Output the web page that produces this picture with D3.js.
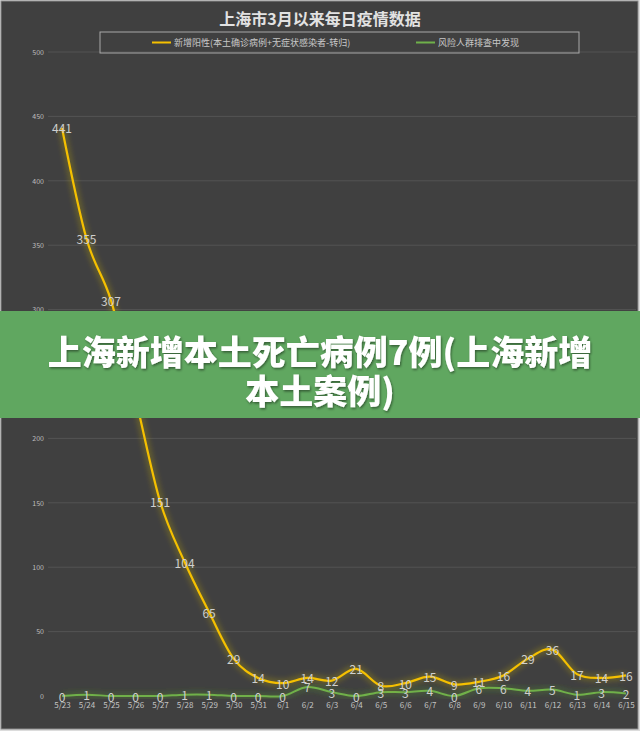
<!DOCTYPE html>
<html>
<head>
<meta charset="utf-8">
<script src="https://cdn.jsdelivr.net/npm/d3@7/dist/d3.min.js"></script>
<style>
html,body{margin:0;padding:0;background:#ffffff;}
svg{display:block;}
</style>
</head>
<body>
<svg id="chart" width="640" height="731"></svg>
<script>
const dates = ["5/23","5/24","5/25","5/26","5/27","5/28","5/29","5/30","5/31","6/1","6/2","6/3","6/4","6/5","6/6","6/7","6/8","6/9","6/10","6/11","6/12","6/13","6/14","6/15"];
const positives = [441,355,307,231,151,104,65,29,14,10,14,12,21,8,10,15,9,11,16,29,36,17,14,16];
const screening = [0,1,0,0,0,1,1,0,0,0,7,3,0,3,3,4,0,6,6,4,5,1,3,2];
const yTicks = [0,50,100,150,200,250,300,350,400,450,500];
const titleText = "上海市3月以来每日疫情数据";
const legendNames = ["新增阳性(本土确诊病例+无症状感染者-转归)","风险人群排查中发现"];
const bannerLines = ["上海新增本土死亡病例7例(上海新增","本土案例)"];

const W = 640, H = 731;
const svg = d3.select("#chart");
const font = "'Noto Sans CJK SC','Noto Sans',sans-serif";

const defs = svg.append("defs");
function glow(id, color, dev, op){
  const f = defs.append("filter").attr("id", id).attr("x","-20%").attr("y","-20%").attr("width","140%").attr("height","140%");
  f.append("feGaussianBlur").attr("in","SourceAlpha").attr("stdDeviation",dev).attr("result","b");
  f.append("feFlood").attr("flood-color",color).attr("flood-opacity",op);
  f.append("feComposite").attr("in2","b").attr("operator","in").attr("result","g");
  const m = f.append("feMerge");
  m.append("feMergeNode").attr("in","g");
  m.append("feMergeNode").attr("in","g");
  m.append("feMergeNode").attr("in","SourceGraphic");
}
glow("glowY", "#c8b000", 3.5, 0.5);
glow("glowG", "#5fa040", 3.5, 0.5);
const sh = defs.append("filter").attr("id","tshadow").attr("x","-10%").attr("y","-30%").attr("width","120%").attr("height","160%");
sh.append("feDropShadow").attr("dx",1).attr("dy",1.5).attr("stdDeviation",1).attr("flood-color","#000").attr("flood-opacity",0.45);

// background
svg.append("rect").attr("x",0).attr("y",0).attr("width",W).attr("height",H).attr("fill","#dcdcdc");
svg.append("rect").attr("x",1).attr("y",1).attr("width",637).attr("height",728).attr("fill","#404040").attr("stroke","#8a8a8a").attr("stroke-width",1);

const x = d3.scalePoint().domain(dates).range([62, 626]);
const y = d3.scaleLinear().domain([0,500]).range([696, 52]);

// gridlines
svg.append("g").selectAll("line").data(yTicks.filter(d=>d>0)).join("line")
  .attr("x1",48).attr("x2",636)
  .attr("y1",d=>y(d)).attr("y2",d=>y(d))
  .attr("stroke","#535353").attr("stroke-width",1);

// y axis labels
const yAxis = d3.axisLeft(y).tickValues(yTicks).tickSize(0).tickPadding(0);
const ya = svg.append("g").attr("transform","translate(44,0)").call(yAxis);
ya.select(".domain").remove();
ya.selectAll("text").attr("fill","#bdbdbd").style("font-size","7px").style("font-family",font);

// x axis labels
const xAxis = d3.axisBottom(x).tickSize(0).tickPadding(0);
const xa = svg.append("g").attr("transform","translate(0,702)").call(xAxis);
xa.select(".domain").remove();
xa.selectAll("text").attr("fill","#c4c4c4").style("font-size","8px").style("font-family",font);

// lines
const lineY = d3.line().x((d,i)=>x(dates[i])).y(d=>y(d)).curve(d3.curveCatmullRom.alpha(0));
const lineG = d3.line().x((d,i)=>x(dates[i])).y(d=>y(d)).curve(d3.curveCatmullRom.alpha(0));
svg.append("path").datum(screening).attr("d",lineG).attr("fill","none")
  .attr("stroke","#6fb04a").attr("stroke-width",2).attr("filter","url(#glowG)");
svg.append("path").datum(positives).attr("d",lineY).attr("fill","none")
  .attr("stroke","#f5c000").attr("stroke-width",2.2).attr("filter","url(#glowY)");

// data labels
function labels(arr){
  svg.append("g").selectAll("text").data(arr).join("text")
    .attr("x",(d,i)=>x(dates[i])).attr("y",d=>y(d))
    .attr("text-anchor","middle").attr("dominant-baseline","central")
    .attr("fill","#cfcfcf").style("font-size","12px").style("font-family",font)
    .text(d=>d);
}
labels(screening);
labels(positives);

// title
svg.append("text").attr("x",320).attr("y",18).attr("text-anchor","middle").attr("dominant-baseline","central")
  .attr("fill","#e2e2e2").style("font-size","16px").style("font-weight","bold").style("font-family",font)
  .text(titleText);

// legend
svg.append("rect").attr("x",100).attr("y",32).attr("width",479).attr("height",21)
  .attr("fill","none").attr("stroke","#a8a8a8").attr("stroke-width",1);
const legColors = ["#f5c000","#6fb04a"];
const legX = [152, 416];
legendNames.forEach((n,i)=>{
  svg.append("line").attr("x1",legX[i]).attr("x2",legX[i]+19).attr("y1",42.5).attr("y2",42.5)
    .attr("stroke",legColors[i]).attr("stroke-width",2);
  svg.append("text").attr("x",legX[i]+22).attr("y",42.5).attr("dominant-baseline","central")
    .attr("fill","#c8c8c8").style("font-size","9px").style("font-family",font).text(n);
});

// banner overlay
svg.append("rect").attr("x",0).attr("y",311).attr("width",W).attr("height",107).attr("fill","#60a760");
bannerLines.forEach((t,i)=>{
  svg.append("text").attr("x",320).attr("y",350 + i*39).attr("text-anchor","middle").attr("dominant-baseline","central")
    .attr("fill","#ffffff").style("font-size","34px").style("font-weight","900").style("font-family",font)
    .attr("filter","url(#tshadow)").text(t);
});
</script>
</body>
</html>
